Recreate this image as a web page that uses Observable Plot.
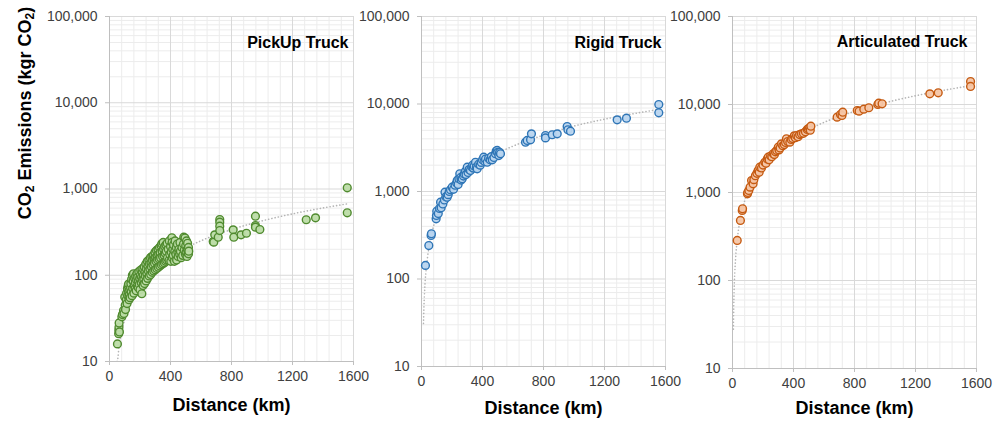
<!DOCTYPE html>
<html>
<head>
<meta charset="utf-8">
<script src="https://cdn.jsdelivr.net/npm/d3@7"></script>
<script src="https://cdn.jsdelivr.net/npm/@observablehq/plot@0.6"></script>
<style>
  html, body { margin: 0; padding: 0; background: #fff; }
  #wrap { position: relative; width: 1005px; height: 423px; font-family: "Liberation Sans", Arial, sans-serif; }
  #wrap svg { position: absolute; top: 0; }
  #ylab { position: absolute; left: 25px; top: 113px; transform: translate(-50%, -50%) rotate(-90deg);
          white-space: nowrap; font-weight: bold; font-size: 18px; color: #000; }
  #ylab sub { font-size: 12px; vertical-align: -3px; line-height: 0; }
</style>
</head>
<body>
<div id="wrap"><div id="ylab">CO<sub>2</sub> Emissions (kgr CO<sub>2</sub>)</div></div>
<script>
// ---- data (distance km, CO2 kg) ----
const titles = ["PickUp Truck", "Rigid Truck", "Articulated Truck"];
const xLabel = "Distance (km)";
const xTicks = [0, 400, 800, 1200, 1600];
const yTicks = [10, 100, 1000, 10000, 100000];

const pickup = [[52,16],[60,21],[61,23],[62,25],[63,28],[65,22],[81,33],[85,35],[92,39],[95,36],[100,56],[103,45],[105,40],[110,52],[112,62],[115,47],[118,70],[120,58],[122,75],[125,79],[125,65],[128,52],[130,60],[132,68],[135,55],[138,72],[140,80],[142,64],[145,90],[148,58],[150,100],[152,70],[155,85],[157,104],[160,62],[162,76],[165,92],[168,70],[170,82],[172,98],[175,66],[178,88],[180,105],[182,75],[185,95],[188,72],[190,85],[192,110],[195,78],[198,92],[200,68],[202,100],[205,115],[208,82],[210,95],[212,61],[214,108],[216,88],[218,120],[220,76],[222,100],[225,90],[228,125],[230,80],[232,110],[235,98],[238,135],[240,86],[242,118],[245,104],[248,145],[250,92],[252,128],[255,112],[258,150],[260,98],[262,135],[265,118],[268,160],[270,102],[272,140],[275,125],[278,165],[280,108],[282,148],[285,132],[288,170],[290,112],[292,155],[295,138],[298,185],[300,116],[302,160],[305,145],[308,194],[310,120],[312,168],[315,150],[318,200],[320,124],[322,175],[325,155],[328,210],[330,128],[332,182],[335,160],[338,220],[340,132],[343,232],[345,190],[348,165],[350,136],[352,240],[355,200],[358,170],[360,140],[362,215],[365,180],[368,145],[370,225],[372,190],[375,150],[378,235],[380,160],[385,200],[390,148],[392,250],[395,175],[400,215],[402,145],[405,185],[409,272],[410,240],[412,160],[415,200],[418,170],[420,225],[425,145],[428,190],[430,250],[435,175],[438,210],[440,150],[445,230],[448,185],[450,165],[455,200],[460,175],[462,240],[465,190],[470,160],[475,210],[480,170],[485,230],[487,276],[490,195],[495,270],[498,175],[500,220],[502,185],[505,250],[508,165],[510,200],[512,235],[515,180],[518,177],[518,210],[520,190],[680,246],[684,242],[690,294],[713,276],[723,443],[723,412],[723,371],[723,330],[811,336],[815,276],[863,294],[898,307],[957,484],[957,377],[957,361],[986,339],[1290,440],[1351,463],[1559,1033],[1559,530]];

const rigid = [[26,143],[48,241],[63,314],[65,329],[96,487],[98,532],[100,596],[110,560],[118,640],[125,755],[129,652],[140,720],[150,800],[154,982],[160,870],[168,861],[175,920],[182,1000],[190,1050],[201,1120],[210,1060],[220,1180],[230,1250],[234,1337],[240,1200],[245,1400],[251,1593],[258,1450],[260,1350],[267,1396],[275,1500],[280,1580],[288,1700],[292,1560],[300,1895],[305,1650],[312,1780],[321,1738],[330,1900],[335,2000],[340,1850],[345,1950],[354,2160],[360,1900],[365,1817],[375,2050],[385,2000],[392,2150],[400,2300],[408,2466],[415,2200],[420,2350],[431,2160],[440,2400],[450,2300],[458,2500],[464,2300],[475,2450],[485,2700],[490,2900],[496,2944],[500,2800],[507,2576],[512,2800],[518,2698],[682,3660],[693,3830],[715,3900],[721,4560],[813,4360],[813,4100],[857,4450],[890,4560],[955,5530],[960,5070],[977,4890],[1283,6590],[1344,6880],[1556,9866],[1556,7930]];

const articulated = [[31,285],[52,481],[64,624],[66,653],[98,967],[100,1000],[107,1054],[115,1150],[125,1368],[135,1256],[140,1400],[150,1550],[160,1650],[168,1778],[175,1700],[179,1940],[190,1900],[200,2050],[212,2208],[220,2150],[228,2400],[234,2518],[240,2350],[250,2600],[258,2550],[267,2754],[275,2700],[282,2900],[290,3000],[300,3273],[305,3050],[312,3200],[321,3573],[330,3400],[340,3500],[348,3700],[354,4074],[362,3800],[376,3733],[385,4000],[395,4100],[405,4400],[412,4200],[420,4446],[430,4300],[440,4550],[452,4645],[465,4700],[478,4900],[490,5200],[496,5296],[505,5400],[510,5100],[514,5667],[686,7180],[708,7690],[718,7500],[723,8180],[818,8550],[830,8400],[861,8850],[894,9180],[953,10000],[959,10350],[981,10180],[1294,13220],[1349,13580],[1561,18240],[1561,16030]];

// dotted trend lines
const pickupTrend = [[50,10],[55,11],[60,13.5],[70,18],[80,22],[100,31],[130,44],[170,62],[200,75],[300,119],[400,163],[500,207],[600,251],[800,339],[1000,427],[1200,515],[1400,603],[1560,673]];
const rigidTrend = [[13,31],[14,36],[16,48],[20,70],[25,100],[30,125],[40,180],[50,240],[70,350],[100,520],[150,800],[200,1080],[300,1650],[400,2200],[600,3300],[800,4400],[1000,5600],[1200,6700],[1400,7800],[1560,8700]];
const articulatedTrend = [[6,28],[7,38],[8,49],[10,70],[12,92],[15,123],[20,175],[30,280],[40,385],[60,595],[80,805],[100,1015],[150,1540],[200,2065],[300,3115],[400,4165],[600,6265],[800,8365],[1000,10465],[1200,12565],[1400,14665],[1560,16345]];

// minor gridlines (Excel-style): every 80 km, and 2..9 within each decade
const xMinor = d3.range(0, 1601, 80).filter(v => v % 400 !== 0);
const yMinor = [];
for (let p = 10; p < 100000; p *= 10) for (let k = 2; k <= 9; k++) yMinor.push(p * k);

const panels = [
  {title: titles[0], data: pickup, trend: pickupTrend, fill: "#bcdca6", stroke: "#4f8a2e",
   left: 0, width: 360, ml: 109, mr: 7, mb: 62, tdx: -5, tdy: 26, ldy: 44},
  {title: titles[1], data: rigid, trend: rigidTrend, fill: "#b9d5ef", stroke: "#2e75b6",
   left: 360, width: 310, ml: 61, mr: 5, mb: 57, tdx: -4, tdy: 26, ldy: 42},
  {title: titles[2], data: articulated, trend: articulatedTrend, fill: "#f6c6a6", stroke: "#c55a11",
   left: 670, width: 335, ml: 62, mr: 29, mb: 55, tdx: -9, tdy: 25, ldy: 40}
];

const wrap = document.getElementById("wrap");
for (const p of panels) {
  const svg = Plot.plot({
    width: p.width, height: 423,
    marginLeft: p.ml, marginRight: p.mr, marginTop: 16, marginBottom: p.mb,
    style: {background: "transparent", overflow: "visible", fontFamily: "'Liberation Sans', Arial, sans-serif"},
    x: {domain: [0, 1600]},
    y: {type: "log", domain: [10, 100000]},
    marks: [
      Plot.ruleX(xMinor, {stroke: "#ececec"}),
      Plot.ruleY(yMinor, {stroke: "#ececec"}),
      Plot.ruleX(xTicks, {stroke: "#d9d9d9"}),
      Plot.ruleY(yTicks, {stroke: "#d9d9d9"}),
      Plot.ruleX([0], {stroke: "#bfbfbf"}),
      Plot.ruleY([10], {stroke: "#bfbfbf"}),
      Plot.axisX({ticks: xTicks, tickFormat: d => String(d), tickSize: 4, tickPadding: 6,
                  fontSize: 14, stroke: "#bfbfbf", fill: "#404040", label: null}),
      Plot.axisY({ticks: yTicks, tickFormat: d3.format(","), tickSize: 4, tickPadding: 8,
                  fontSize: 14, stroke: "#bfbfbf", fill: "#404040", label: null}),
      Plot.line(p.trend, {x: d => d[0], y: d => d[1], stroke: "#b4b4b4", strokeWidth: 1.6,
                  strokeDasharray: "0.1,3.2", strokeLinecap: "round", curve: "monotone-x", clip: true}),
      Plot.dot(p.data, {x: d => d[0], y: d => d[1], r: 3.9, fill: p.fill, fillOpacity: 0.95,
                  stroke: p.stroke, strokeWidth: 1.4}),
      Plot.text([p.title], {frameAnchor: "top-right", dx: p.tdx, dy: p.tdy, lineAnchor: "middle",
                  textAnchor: "end", fontSize: 16, fontWeight: "bold", fill: "#000"}),
      Plot.text([xLabel], {frameAnchor: "bottom", dy: p.ldy, lineAnchor: "middle",
                  fontSize: 18, fontWeight: "bold", fill: "#000"})
    ]
  });
  svg.style.left = p.left + "px";
  wrap.appendChild(svg);
}
</script>
</body>
</html>
